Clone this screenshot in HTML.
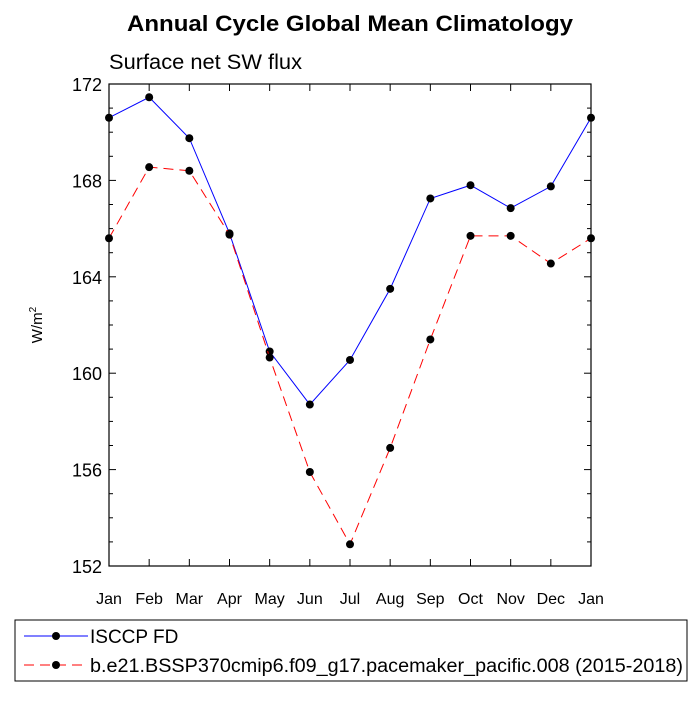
<!DOCTYPE html>
<html><head><meta charset="utf-8"><style>
body{margin:0;background:#fff;}
svg text{font-family:"Liberation Sans",sans-serif;}
</style></head><body>
<svg id="c" width="700" height="700" xmlns="http://www.w3.org/2000/svg">
<text x="350" y="31" text-anchor="middle" font-size="22" font-weight="bold" textLength="446" lengthAdjust="spacingAndGlyphs">Annual Cycle Global Mean Climatology</text>
<text x="109" y="69" font-size="21" textLength="193" lengthAdjust="spacingAndGlyphs">Surface net SW flux</text>
<text transform="translate(42,325) rotate(-90)" text-anchor="middle" font-size="15">W/m<tspan dy="-6" font-size="10">2</tspan></text>
<g id="axes"></g>
<g id="series"></g>
<rect x="15" y="620" width="672" height="61" fill="none" stroke="#000" stroke-width="1"/>
<line x1="24" y1="636" x2="88" y2="636" stroke="#00f"/>
<circle cx="56" cy="636" r="4"/>
<text x="90" y="643" font-size="19">ISCCP FD</text>
<line x1="24" y1="665" x2="88" y2="665" stroke="#f00" stroke-dasharray="10,6"/>
<circle cx="56" cy="665" r="4"/>
<text x="90" y="672" font-size="19" textLength="593" lengthAdjust="spacingAndGlyphs">b.e21.BSSP370cmip6.f09_g17.pacemaker_pacific.008 (2015-2018)</text>
</svg>
<script>
const months=["Jan","Feb","Mar","Apr","May","Jun","Jul","Aug","Sep","Oct","Nov","Dec","Jan"];
const isccp=[170.6,171.45,169.75,165.8,160.9,158.7,160.55,163.5,167.25,167.8,166.85,167.75,170.6];
const model=[165.6,168.55,168.4,165.75,160.65,155.9,152.9,156.9,161.4,165.7,165.7,164.55,165.6];
const yTicks=[152,156,160,164,168,172];
const X0=109,X1=591,Y0=84,Y1=566,YMIN=152,YMAX=172;
const NS="http://www.w3.org/2000/svg";
const xs=i=>X0+(X1-X0)*i/(months.length-1);
const ys=v=>Y1-(v-YMIN)/(YMAX-YMIN)*(Y1-Y0);
function mk(t,a,p){const e=document.createElementNS(NS,t);for(const k in a)e.setAttribute(k,a[k]);p.appendChild(e);return e;}
const ax=document.getElementById('axes'),sg=document.getElementById('series');
const fr=mk('rect',{x:X0,y:Y0,width:X1-X0,height:Y1-Y0,fill:'none',stroke:'#000','stroke-width':1.2},ax);


months.forEach((m,i)=>{const x=xs(i);
 mk('line',{x1:x,y1:Y1,x2:x,y2:Y1-7,stroke:'#000'},ax);
 mk('line',{x1:x,y1:Y0,x2:x,y2:Y0+7,stroke:'#000'},ax);
 const t=mk('text',{x:x,y:Y1+38,'text-anchor':'middle','font-size':16},ax);t.textContent=m;
 
 
});
for(let v=YMIN;v<=YMAX;v++){const y=ys(v);const major=(v-YMIN)%4===0;const L=major?7:4;
 mk('line',{x1:X0,y1:y,x2:X0+L,y2:y,stroke:'#000'},ax);
 mk('line',{x1:X1,y1:y,x2:X1-L,y2:y,stroke:'#000'},ax);
}
yTicks.forEach(v=>{const t=mk('text',{x:X0-7,y:ys(v)+7,'text-anchor':'end','font-size':18},ax);t.textContent=v;
 
 
});
function series(d,col,dash,name){
 const p=mk('polyline',{points:d.map((v,i)=>xs(i)+','+ys(v)).join(' '),fill:'none',stroke:col,'stroke-width':1,'stroke-dasharray':dash},sg);
 
 
 d.forEach((v,i)=>{const c=mk('circle',{cx:xs(i),cy:ys(v),r:4,fill:'#000'},sg);
  
  
 });
}
series(isccp,'#00f','none','isccp');
series(model,'#f00','10,6','model');
</script>
</body></html>
